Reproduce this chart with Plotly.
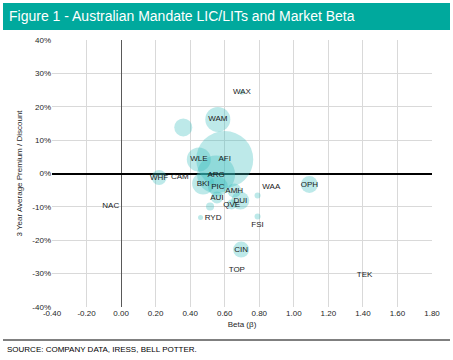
import plotly.graph_objects as go

# Data
tickers = ["WAX", "WAM", "", "AFI", "WLE", "ARG", "WHF", "CAM", "BKI", "PIC", "AMH",
           "WAA", "AUI", "QVE", "DUI", "RYD", "FSI", "CIN", "TOP", "OPH", "TEK", "NAC", ""]
beta = [0.70, 0.56, 0.36, 0.60, 0.45, 0.55, 0.22, 0.34, 0.475, 0.56, 0.655,
        0.79, 0.555, 0.64, 0.69, 0.46, 0.79, 0.695, 0.67, 1.09, 1.41, -0.06, 0.515]
premium = [24.3, 16.2, 13.8, 4.2, 4.2, -0.3, -1.2, -0.9, -3.0, -3.9, -5.1,
           -6.6, -7.2, -9.3, -8.1, -13.2, -12.9, -22.8, -29.0, -3.3, -30.5, -9.6, -9.9]
market_cap = [60, 1540, 800, 8000, 1420, 3560, 554, 5, 1192, 985, 483,
              89, 355, 246, 798, 62, 89, 630, 5, 712, 5, 5, 160]
label_pos = ["middle center"] * len(tickers)
label_pos[tickers.index("WAA")] = "top right"
label_pos[tickers.index("RYD")] = "middle right"
label_pos[tickers.index("FSI")] = "bottom center"

x_ticks = [-0.4, -0.2, 0.0, 0.2, 0.4, 0.6, 0.8, 1.0, 1.2, 1.4, 1.6, 1.8]
x_tick_labels = ["-0.40", "-0.20", "0.00", "0.20", "0.40", "0.60", "0.80",
                 "1.00", "1.20", "1.40", "1.60", "1.80"]
y_ticks = [-40, -30, -20, -10, 0, 10, 20, 30, 40]
y_tick_labels = ["-40%", "-30%", "-20%", "-10%", "0%", "10%", "20%", "30%", "40%"]

FONT = "Liberation Sans, Arial, sans-serif"
MAX_D = 57

fig = go.Figure()
fig.add_trace(go.Scatter(
    x=beta, y=premium, mode="markers+text", text=tickers,
    textposition=label_pos,
    textfont=dict(family=FONT, size=8, color="#1a1a1a"),
    marker=dict(size=market_cap, sizemode="area",
                sizeref=2 * max(market_cap) / MAX_D ** 2,
                color="rgba(55,188,188,0.47)", line=dict(width=0)),
    cliponaxis=False, hoverinfo="skip", showlegend=False,
))

fig.update_layout(
    width=453, height=360,
    margin=dict(l=52, r=21, t=40, b=53),
    paper_bgcolor="white", plot_bgcolor="white",
    font=dict(family=FONT, size=8, color="#262626"),
    xaxis=dict(range=[-0.4, 1.8], tickvals=x_ticks, ticktext=x_tick_labels,
               showgrid=True, gridcolor="#d9d9d9", gridwidth=1,
               zeroline=True, zerolinecolor="#595959", zerolinewidth=1,
               showline=False, ticks="", automargin=False,
               title=dict(text="Beta (β)", font=dict(size=8), standoff=4),
               tickfont=dict(size=8)),
    yaxis=dict(range=[-40, 40], tickvals=y_ticks, ticktext=y_tick_labels,
               showgrid=True, gridcolor="#d9d9d9", gridwidth=1,
               zeroline=True, zerolinecolor="#000000", zerolinewidth=1.5,
               showline=False, ticks="", automargin=False,
               title=dict(text="3 Year Average Premium / Discount", font=dict(size=8), standoff=8),
               tickfont=dict(size=8)),
    shapes=[
        dict(type="rect", xref="paper", yref="paper", layer="below",
             x0=-49 / 380, x1=(380 + 18) / 380, y0=1 + 10 / 267, y1=1 + 37 / 267,
             fillcolor="#00a99d", line=dict(width=0)),
        dict(type="line", xref="paper", yref="paper",
             x0=-49 / 380, x1=(380 + 18) / 380, y0=-33 / 267, y1=-33 / 267,
             line=dict(color="#000000", width=1)),
    ],
    annotations=[
        dict(text="Figure 1 - Australian Mandate LIC/LITs and Market Beta",
             xref="paper", yref="paper", x=-45 / 380, y=1 + 23.5 / 267,
             xanchor="left", yanchor="middle", showarrow=False,
             font=dict(family=FONT, size=14, color="white")),
        dict(text="SOURCE: COMPANY DATA, IRESS, BELL POTTER.",
             xref="paper", yref="paper", x=-47 / 380, y=-42 / 267,
             xanchor="left", yanchor="middle", showarrow=False,
             font=dict(family=FONT, size=8, color="#000000")),
    ],
)

fig.write_html("out.html", config={"displayModeBar": False},
               post_script="document.body.style.margin='0';")
